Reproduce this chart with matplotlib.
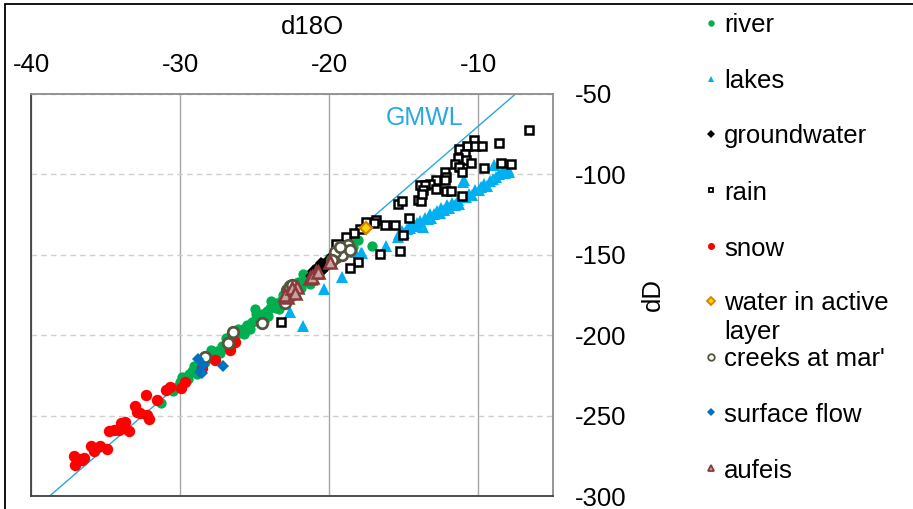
import matplotlib
matplotlib.use("Agg")
import matplotlib.pyplot as plt
from matplotlib.lines import Line2D
from matplotlib.patches import Rectangle

plt.rcParams['font.family'] = ['Liberation Sans', 'DejaVu Sans']
plt.rcParams['axes.unicode_minus'] = False

# ---------------- data ----------------
river_x = [-31.3, -30.5, -30.2, -30.0, -29.8, -29.6, -29.4, -29.2, -29.0, -28.8, -28.6, -28.5, -28.2,
           -28.0, -27.8, -27.6, -27.5, -27.2, -27.0, -26.8, -26.6, -26.5, -26.2, -26.0, -25.8, -25.6,
           -25.5, -25.2, -25.0, -24.98, -24.8, -24.6, -24.5, -24.2, -24.0, -23.8, -23.6, -23.5, -23.2,
           -23.0, -22.8, -22.6, -22.5, -22.2, -22.0, -21.75, -21.5, -21.2, -21.0, -20.5, -20.0, -19.5,
           -19.2, -19.0, -18.8, -18.5, -18.1, -17.15,
           -29.9, -29.5, -29.1, -28.9, -28.3, -27.9, -27.3, -26.9, -26.4, -26.1, -25.7, -25.3, -24.9,
           -24.4, -24.1, -23.9, -23.4, -23.1, -22.9, -22.4, -22.1, -21.9, -21.6, -21.3, -20.9, -20.7,
           -20.3, -19.9, -19.7, -19.4, -18.9, -18.4]
river_y = [-242, -235, -232, -229, -228, -226, -224, -222, -221, -220, -221, -218, -214,
           -213, -212, -212, -210, -207, -206, -204, -204, -201, -199, -198, -196, -197,
           -194, -192, -191, -184, -189, -190, -187, -185, -183, -182, -183, -180, -178,
           -176, -174, -176, -172, -170, -168, -162, -165, -163, -161, -157, -152, -149,
           -147, -147, -144, -142, -141, -144.3,
           -226, -227, -219, -224, -217, -209, -211, -202, -205, -196, -199, -196, -187,
           -191, -188, -179, -184, -175, -179, -175, -167, -171, -166, -168, -158, -162,
           -155, -156, -150, -146, -148, -145]

lakes_x = [-15.4, -15.3, -15.1, -15.0, -14.8, -14.6, -14.5, -14.3, -14.1, -13.9, -13.7, -13.6, -13.4,
           -13.28, -13.2, -13.0, -12.8, -12.6, -12.5, -12.3, -12.1, -12.0, -11.8, -11.6, -11.4, -11.27,
           -11.05, -10.94, -10.8, -10.6, -10.4, -10.2, -9.93, -9.8, -9.6, -9.4, -9.2, -9.0, -8.93, -8.82,
           -8.6, -8.37, -8.2, -8.0, -7.93,
           -16.17, -17.79, -17.85, -18.3, -19.13, -20.37, -21.75, -22.64]
lakes_y = [-139, -137, -135, -136.5, -134, -133.5, -131, -132, -130, -129, -132.7, -127, -128,
           -124.5, -127, -125, -123, -124, -121, -122, -119, -121, -118, -119, -116, -118.2,
           -104.8, -103.8, -114, -112, -113, -110, -110, -108, -106, -107, -104, -103, -94.5, -101.7,
           -100, -97.6, -99, -97, -98.6,
           -144.7, -148.9, -148.9, -148.3, -163.8, -171.4, -194.2, -185.5]

gw_x = [-21.0, -20.8, -20.7, -20.6, -20.5, -20.4, -20.3, -20.2, -20.0, -19.8,
        -21.2, -20.9, -20.65, -20.45, -20.25, -20.1, -19.9, -21.1, -20.55]
gw_y = [-161, -159, -157, -158, -160, -156, -158, -155, -153, -151,
        -163, -161, -160, -157, -157, -154, -153, -160, -155]

rain_x = [-6.64, -8.6, -10.27, -10.78, -10.2, -9.75, -11.3, -10.87, -11.38, -10.82, -10.49, -11.54,
          -11.27, -11.09, -8.48, -7.81, -9.6, -12.27, -12.2, -12.83, -12.27, -13.28, -13.95, -13.61,
          -13.73, -12.83, -12.16, -11.83, -14.06, -13.83, -13.77, -15.4, -15.1, -11.09, -14.66, -16.84,
          -16.29, -15.62, -15.06, -16.62, -15.24, -17.02, -17.51, -17.96, -18.34, -18.85, -19.57,
          -18.07, -18.63, -23.27]
rain_y = [-72.8, -80.4, -78.5, -82.7, -82.5, -82.5, -84.1, -87.2, -90.0, -91.0, -93.0, -93.4,
          -95.5, -98.6, -93.0, -93.9, -95.9, -98.8, -101.7, -103.4, -103.4, -106.3, -106.9, -106.9,
          -110.0, -108.9, -110.6, -110.6, -115.8, -116.6, -112.5, -118.2, -116.6, -113.7, -127.5, -128.2,
          -131.7, -131.7, -137.9, -149.7, -147.8, -130.3, -129.6, -133.8, -136.5, -139.0, -143.5,
          -154.5, -158.2, -192.0]

snow_x = [-37.14, -37.02, -36.8, -36.58, -36.42, -35.97, -35.8, -35.35, -34.9, -34.8, -34.46, -34.13,
          -33.95, -33.68, -33.68, -33.46, -33.01, -32.9, -32.68, -32.19, -32.12, -32.27, -31.56,
          -30.94, -30.67, -29.95, -29.67, -28.55, -27.66, -26.66, -26.32]
snow_y = [-275.4, -280.6, -277.0, -277.5, -276.4, -268.8, -272.3, -269.2, -270.8, -259.3, -258.9, -258.9,
          -254.7, -253.7, -257.8, -259.9, -244.0, -247.5, -248.5, -249.6, -252.2, -237.2, -240.3,
          -234.1, -232.4, -233.0, -228.9, -220.6, -215.5, -209.3, -204.1]

active_x = [-17.51]
active_y = [-133.4]

creeks_x = [-28.33, -26.43, -26.77, -24.54, -22.64, -22.97, -22.86, -22.76, -22.53, -19.52, -19.18,
            -18.74, -18.63, -19.63, -19.85, -19.3]
creeks_y = [-213.8, -197.9, -204.7, -192.3, -169.5, -180.3, -172.0, -172.0, -168.9, -151.4, -150.3,
            -144.1, -147.2, -148.3, -153.4, -145.2]

surface_x = [-28.78, -28.44, -28.66, -27.14, -28.55]
surface_y = [-214.9, -218.6, -222.7, -219.2, -223.7]

aufeis_x = [-22.86, -22.42, -22.19, -21.3, -20.86, -19.97, -22.97, -21.19, -20.75, -22.53, -22.31]
aufeis_y = [-176.6, -173.1, -170.0, -164.8, -160.7, -154.5, -175.1, -163.8, -160.7, -171.0, -174.1]

gmwl_x = [-40, -5]
gmwl_y = [-310, -30]

x_ticks = [-40, -30, -20, -10]
y_ticks = [-300, -250, -200, -150, -100, -50]

# ---------------- figure ----------------
W, H = 913, 509
FS = 18.5
fig = plt.figure(figsize=(W / 100, H / 100), dpi=100)
ax = fig.add_axes([31 / W, 1 - 496 / H, (553 - 31) / W, (496 - 93.8) / H])

C_GMWL = '#29A8E0'
ax.plot(gmwl_x, gmwl_y, color=C_GMWL, lw=1.0, zorder=2)
ax.text(-13.6, -65.3, 'GMWL', color=C_GMWL, fontsize=18, ha='center', va='center')

styles = [
    ('river', river_x, river_y, dict(marker='o', ms=7.4, mfc='#00B050', mec='#00B050', mew=0)),
    ('lakes', lakes_x, lakes_y, dict(marker='^', ms=8.0, mfc='#00B0F0', mec='#00B0F0', mew=0)),
    ('groundwater', gw_x, gw_y, dict(marker='D', ms=6.0, mfc='black', mec='black', mew=0)),
    ('rain', rain_x, rain_y, dict(marker='s', ms=5.8, mfc='white', mec='black', mew=1.8)),
    ('snow', snow_x, snow_y, dict(marker='o', ms=8.2, mfc='#FF0000', mec='#FF0000', mew=0)),
    ('water in active\nlayer', active_x, active_y, dict(marker='D', ms=6.5, mfc='#FFD700', mec='#D98000', mew=1.6)),
    ("creeks at mar'", creeks_x, creeks_y, dict(marker='o', ms=7.6, mfc='white', mec='#55553F', mew=2.0)),
    ('surface flow', surface_x, surface_y, dict(marker='D', ms=6.0, mfc='#0070C0', mec='#0070C0', mew=0)),
    ('aufeis', aufeis_x, aufeis_y, dict(marker='^', ms=8.0, mfc='#C9A3A3', mec='#8B3A3A', mew=1.8)),
]
for i, (lab, xs, ys, st) in enumerate(styles):
    ax.plot(xs, ys, ls='none', zorder=3 + i, **st)

ax.set_xlim(-40, -5)
ax.set_ylim(-300, -50)
ax.set_xticks(x_ticks)
ax.set_yticks(y_ticks)
ax.xaxis.tick_top()
ax.xaxis.set_label_position('top')
ax.yaxis.tick_right()
ax.yaxis.set_label_position('right')
ax.tick_params(axis='x', length=0, pad=12, labelsize=FS)
ax.tick_params(axis='y', length=0, pad=16, labelsize=FS)
ax.set_xlabel('d18O', fontsize=FS, labelpad=6)
ax.xaxis.set_label_coords((312.5 - 31) / 522, 1.0 + (94 - 27.5) / 402)
ax.xaxis.label.set_va('center')
ax.set_ylabel('dD', fontsize=FS, labelpad=10)

ax.grid(axis='x', color='#A6A6A6', lw=1.0, ls='-', zorder=0)
ax.grid(axis='y', color='#CFCFCF', lw=1.0, ls=(0, (4, 3)), zorder=0)
ax.set_axisbelow(True)
for side, sp in ax.spines.items():
    sp.set_color('#404040' if side in ('left', 'bottom') else '#8C8C8C')
    sp.set_linewidth(1.3)

# legend (manual, outside the axes)
leg_y = [23, 79, 134, 190, 246, 301, 357, 412, 468]
for (lab, xs, ys, st), yy in zip(styles, leg_y):
    st2 = dict(st)
    st2['ms'] = st['ms'] * 0.62
    st2['mew'] = min(st.get('mew', 0), 1.3)
    fig.add_artist(Line2D([711 / W], [1 - yy / H], transform=fig.transFigure, ls='none', **st2))
    lines = lab.split('\n')
    for k, ln in enumerate(lines):
        fig.text(724 / W, 1 - (yy + 28 * k) / H, ln, fontsize=FS, ha='left', va='center_baseline')

# figure frame
fig.add_artist(Rectangle((5 / W, -0.1), 1.2, 1.1 - 4 / H, transform=fig.transFigure,
                         fill=False, ec='black', lw=1.3))

fig.savefig('out.png', dpi=100)
